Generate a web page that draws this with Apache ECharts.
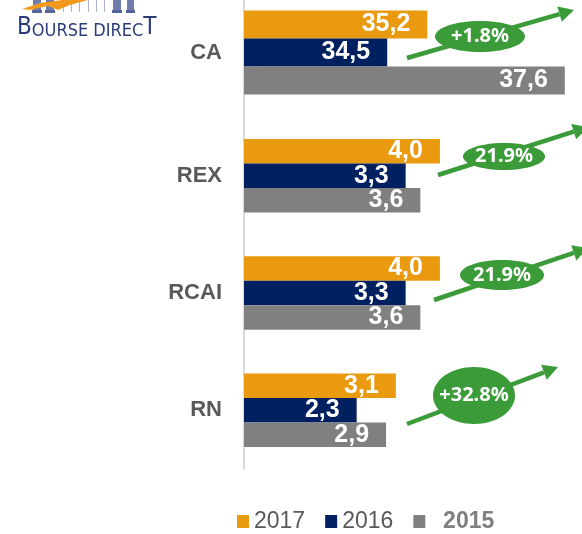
<!DOCTYPE html>
<html>
<head>
<meta charset="utf-8">
<script src="https://cdn.jsdelivr.net/npm/echarts@6/dist/echarts.min.js"></script>
<style>
  html, body { margin: 0; padding: 0; background: #fff; }
  #main { width: 582px; height: 534px; }
</style>
</head>
<body>
<div id="main"></div>
<script>
// categories: CA is drawn on its own (truncated) scale like in the slide
var caCategory = ['CA'];
var otherCategories = ['REX', 'RCAI', 'RN'];
var years = ['2017', '2016', '2015'];
var yearColors = ['#EA9A0E', '#002060', '#808080'];

// values per year, same order as [CA, REX, RCAI, RN]
var values2017 = [35.2, 4.0, 4.0, 3.1];
var values2016 = [34.5, 3.3, 3.3, 2.3];
var values2015 = [37.6, 3.6, 3.6, 2.9];

// growth bubbles next to each group
var growthLabels = ['+1.8%', '21.9%', '21.9%', '+32.8%'];

var allValues = [values2017, values2016, values2015];

function frNumber(p) {
  return p.value.toFixed(1).replace('.', ',');
}

var chart = echarts.init(document.getElementById('main'));

var series = [];
years.forEach(function (year, i) {
  var common = {
    name: year,
    type: 'bar',
    barGap: 0,
    itemStyle: { color: yearColors[i] },
    label: {
      show: true,
      position: 'insideRight',
      distance: 17,
      color: '#fff',
      fontSize: 25,
      fontWeight: 'bold',
      fontFamily: 'Liberation Sans, Arial, sans-serif'
      , formatter: frNumber
    }
  };
  series.push(Object.assign({}, common, {
    xAxisIndex: 0, yAxisIndex: 0, barWidth: 28,
    data: allValues[i].slice(0, 1)
  }));
  series.push(Object.assign({}, common, {
    xAxisIndex: 1, yAxisIndex: 1, barWidth: 24.5,
    data: allValues[i].slice(1)
  }));
});

var catAxisStyle = {
  type: 'category',
  inverse: true,
  axisLine: { lineStyle: { color: '#D9D9D9', width: 2 } },
  axisTick: { show: false },
  axisLabel: {
    margin: 22,
    color: '#595959',
    fontSize: 22,
    fontWeight: 'bold',
    fontFamily: 'Liberation Sans, Arial, sans-serif'
  }
};

// arrows + green bubbles (annotation shapes from the slide)
var arrows = [
  [[407, 58], [574, 10]],
  [[438, 175], [588, 127]],
  [[434, 300], [588, 248]],
  [[407, 424], [558, 367]]
];
var bubbles = [
  [480, 36.5, 45, 15.5],
  [504, 156.5, 41, 13.5],
  [502, 275, 42, 15],
  [474, 395.5, 41, 28.5]
];
var green = '#3A9B38';
var graphics = [];
arrows.forEach(function (a) {
  var x1 = a[0][0], y1 = a[0][1], x2 = a[1][0], y2 = a[1][1];
  var len = Math.sqrt((x2 - x1) * (x2 - x1) + (y2 - y1) * (y2 - y1));
  var ux = (x2 - x1) / len, uy = (y2 - y1) / len;
  var bx = x2 - ux * 15, by = y2 - uy * 15;
  graphics.push({
    type: 'line',
    shape: { x1: x1, y1: y1, x2: bx, y2: by },
    style: { stroke: green, lineWidth: 4.5 }
  });
  graphics.push({
    type: 'polygon',
    shape: { points: [[x2, y2], [bx - uy * 8, by + ux * 8], [bx + uy * 8, by - ux * 8]] },
    style: { fill: green }
  });
});
bubbles.forEach(function (b, i) {
  graphics.push({
    type: 'ellipse',
    shape: { cx: b[0], cy: b[1], rx: b[2], ry: b[3] },
    style: { fill: green }
  });
  graphics.push({
    type: 'text',
    x: b[0], y: b[1],
    style: {
      text: growthLabels[i],
      fill: '#fff',
      font: 'bold 20px "Noto Sans", sans-serif',
      align: 'center',
      verticalAlign: 'middle'
    }
  });
});

// logo, top-left corner (cut off by the slide crop)
var pillarColor = '#6F7DAE';
[[32, 10], [45, 10], [112, 10], [126, 9]].forEach(function (p) {
  graphics.push({ type: 'rect', shape: { x: p[0] + 1, y: 0, width: p[1] - 2, height: 11 }, style: { fill: pillarColor } });
  graphics.push({ type: 'rect', shape: { x: p[0], y: 10, width: p[1], height: 3 }, style: { fill: '#56649A' } });
});
[63, 71, 79, 88, 96, 104].forEach(function (x) {
  graphics.push({ type: 'rect', shape: { x: x, y: 0, width: 1, height: 12 }, style: { fill: '#A9B2D0' } });
});
graphics.push({
  type: 'polygon',
  shape: { points: [[22, 9], [40, 3], [62, 0], [88, 0], [70, 5], [58, 10], [48, 6], [30, 10]] },
  style: { fill: '#F39A1E' }
});
graphics.push({
  type: 'text',
  x: 17, y: 40,
  style: {
    text: '{b|B}{s|OURSE DIREC}{b|T}',
    fill: '#2B3B7A',
    verticalAlign: 'bottom',
    rich: {
      b: { fontSize: 24, fontFamily: 'Liberation Sans Narrow, DejaVu Sans Condensed, sans-serif', fill: '#2B3B7A', verticalAlign: 'bottom' },
      s: { fontSize: 18, fontFamily: 'Liberation Sans Narrow, DejaVu Sans Condensed, sans-serif', fill: '#2B3B7A', verticalAlign: 'bottom' }
    }
  }
});

var option = {
  backgroundColor: '#fff',
  animation: false,
  grid: [
    { left: 244, right: 0, top: -12, height: 129, outerBoundsMode: 'none' },
    { left: 244, right: 0, top: 117, height: 352, outerBoundsMode: 'none' }
  ],
  xAxis: [
    { gridIndex: 0, type: 'value', min: 32, max: 37.9, startValue: 32, show: false },
    { gridIndex: 1, type: 'value', min: 0, max: 6.9, show: false }
  ],
  yAxis: [
    Object.assign({ gridIndex: 0, data: caCategory }, catAxisStyle),
    Object.assign({ gridIndex: 1, data: otherCategories }, catAxisStyle)
  ],
  legend: {
    left: 232,
    top: 505,
    itemWidth: 12,
    itemHeight: 13,
    itemGap: 20,
    icon: 'rect',
    textStyle: { color: '#595959', fontSize: 23, fontFamily: 'Liberation Sans, Arial, sans-serif' },
    formatter: function (name) {
      return name === '2015' ? '  ' + name : name;
    },
    data: [
      { name: '2017' },
      { name: '2016' },
      { name: '2015', textStyle: { fontWeight: 'bold', color: '#7F7F7F' } }
    ]
  },
  graphic: graphics,
  series: series
};

option && chart.setOption(option);
</script>
</body>
</html>
